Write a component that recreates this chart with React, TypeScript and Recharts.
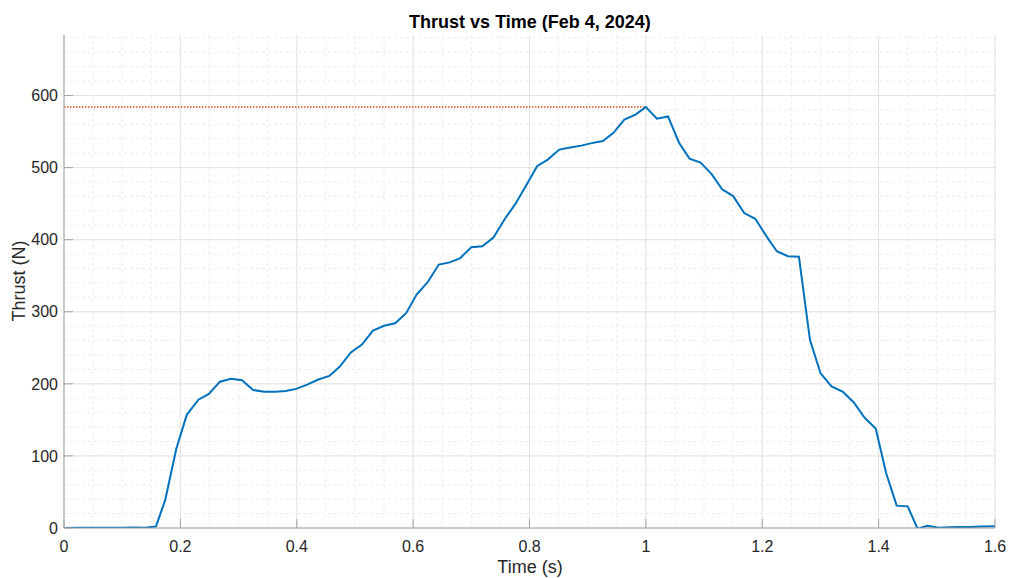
import { CartesianGrid, Line, LineChart, ReferenceLine, XAxis, YAxis } from "recharts";

// Thrust test, Feb 4 2024
const timeS = [
	0.0, 0.026, 0.045, 0.064, 0.082, 0.101, 0.12, 0.139, 0.158, 0.174, 0.193, 0.211,
	0.231, 0.249, 0.268, 0.287, 0.306, 0.325, 0.344, 0.363, 0.381, 0.399, 0.418, 0.437,
	0.456, 0.474, 0.493, 0.512, 0.531, 0.55, 0.569, 0.588, 0.606, 0.625, 0.644, 0.663,
	0.681, 0.7, 0.719, 0.738, 0.757, 0.776, 0.794, 0.813, 0.832, 0.851, 0.87, 0.889,
	0.907, 0.926, 0.944, 0.963, 0.982, 1.0, 1.019, 1.038, 1.057, 1.075, 1.094, 1.113,
	1.131, 1.15, 1.169, 1.188, 1.207, 1.225, 1.244, 1.263, 1.282, 1.3, 1.319, 1.338,
	1.357, 1.376, 1.395, 1.413, 1.431, 1.45, 1.467, 1.484, 1.503, 1.522, 1.541, 1.558,
	1.577, 1.6,
];

const thrustN = [
	0, 0.3, 0.2, 0.3, 0.2, 0.5, 0.8, 0.5, 2, 39, 110, 157,
	178, 186, 203, 207, 205, 191.5, 189, 189, 190, 193, 199, 206,
	211, 224, 243.5, 254.5, 274, 280.5, 284, 298, 324, 341, 365.5, 368.5,
	374.5, 389.5, 391, 403, 428, 450, 475, 502, 511.5, 525, 528, 530.5,
	534, 537, 548, 566.5, 573.5, 584, 568, 571, 534.5, 512.5, 507, 491,
	470, 460.5, 437, 429, 405, 384, 377, 376.4, 261, 215, 196.5, 189.3,
	174.5, 153, 138, 76, 31, 30, -1, 3, 0.5, 1.2, 1.5, 1.5,
	2, 2.3,
];

const xTicks = [0, 0.2, 0.4, 0.6, 0.8, 1, 1.2, 1.4, 1.6];
const xTickLabels = ["0", "0.2", "0.4", "0.6", "0.8", "1", "1.2", "1.4", "1.6"];
const yTicks = [0, 100, 200, 300, 400, 500, 600];
const xLimit = 1.6;
const yLimit = 684;

// minor grid: every 0.05 s and every 20 N
const xMinor = Array.from({ length: 33 }, (_, i) => +(i * 0.05).toFixed(2));
const yMinor = Array.from({ length: 35 }, (_, i) => i * 20);

const data = timeS.map((t, i) => ({ t, v: thrustN[i] }));

const peakIdx = thrustN.indexOf(Math.max(...thrustN));
const peakThrust = thrustN[peakIdx];
const peakTime = timeS[peakIdx];

const textColor = "#262626";
const axisColor = "#a3a3a3";
const tickStyle = { fill: textColor, fontSize: 16, fontFamily: "Liberation Sans, Arial, sans-serif" };

export default function App() {
	return (
		<div
			style={{
				position: "absolute",
				left: 0,
				top: 0,
				width: 1012,
				height: 578,
				background: "#ffffff",
				fontFamily: "Liberation Sans, Arial, sans-serif",
				color: textColor,
			}}
		>
			<div
				style={{
					position: "absolute",
					left: 330,
					width: 400,
					top: 13,
					textAlign: "center",
					fontSize: 18,
					lineHeight: "18px",
					fontWeight: 700,
					color: "#000",
				}}
			>
				Thrust vs Time (Feb 4, 2024)
			</div>
			<LineChart
				width={1012}
				height={578}
				data={data}
				margin={{ top: 35, right: 17, left: 0, bottom: 20 }}
			>
				<CartesianGrid
					horizontalValues={yMinor}
					verticalValues={xMinor}
					stroke="#ececec"
					strokeDasharray="3 3"
				/>
				<CartesianGrid
					horizontalValues={yTicks}
					verticalValues={xTicks}
					stroke="#e3e3e3"
				/>
				<XAxis
					dataKey="t"
					type="number"
					domain={[0, xLimit]}
					allowDataOverflow
					ticks={xTicks}
					interval={0}
					tickFormatter={(v: number) => xTickLabels[xTicks.indexOf(v)] ?? String(v)}
					tick={tickStyle}
					axisLine={{ stroke: axisColor }}
					tickLine={{ stroke: axisColor }}
					tickSize={-9}
					tickMargin={22}
					height={30}
				/>
				<YAxis
					type="number"
					domain={[0, yLimit]}
					allowDataOverflow
					ticks={yTicks}
					interval={0}
					tick={tickStyle}
					axisLine={{ stroke: axisColor }}
					tickLine={{ stroke: axisColor }}
					tickSize={-9}
					tickMargin={15}
					width={64}
				/>
				<ReferenceLine
					segment={[
						{ x: 0, y: peakThrust },
						{ x: peakTime, y: peakThrust },
					]}
					stroke="#D95319"
					strokeWidth={1.5}
					strokeDasharray="1.5 1.5"
				/>
				<Line
					type="linear"
					dataKey="v"
					stroke="#0072BD"
					strokeWidth={2}
					dot={false}
					activeDot={false}
					isAnimationActive={false}
				/>
			</LineChart>
			<div
				style={{
					position: "absolute",
					left: 430,
					width: 200,
					top: 558,
					textAlign: "center",
					fontSize: 18,
					lineHeight: "18px",
				}}
			>
				Time (s)
			</div>
			<div
				style={{
					position: "absolute",
					left: 18.5 - 100,
					width: 200,
					top: 281 - 9,
					textAlign: "center",
					fontSize: 18,
					lineHeight: "18px",
					transform: "rotate(-90deg)",
				}}
			>
				Thrust (N)
			</div>
		</div>
	);
}
